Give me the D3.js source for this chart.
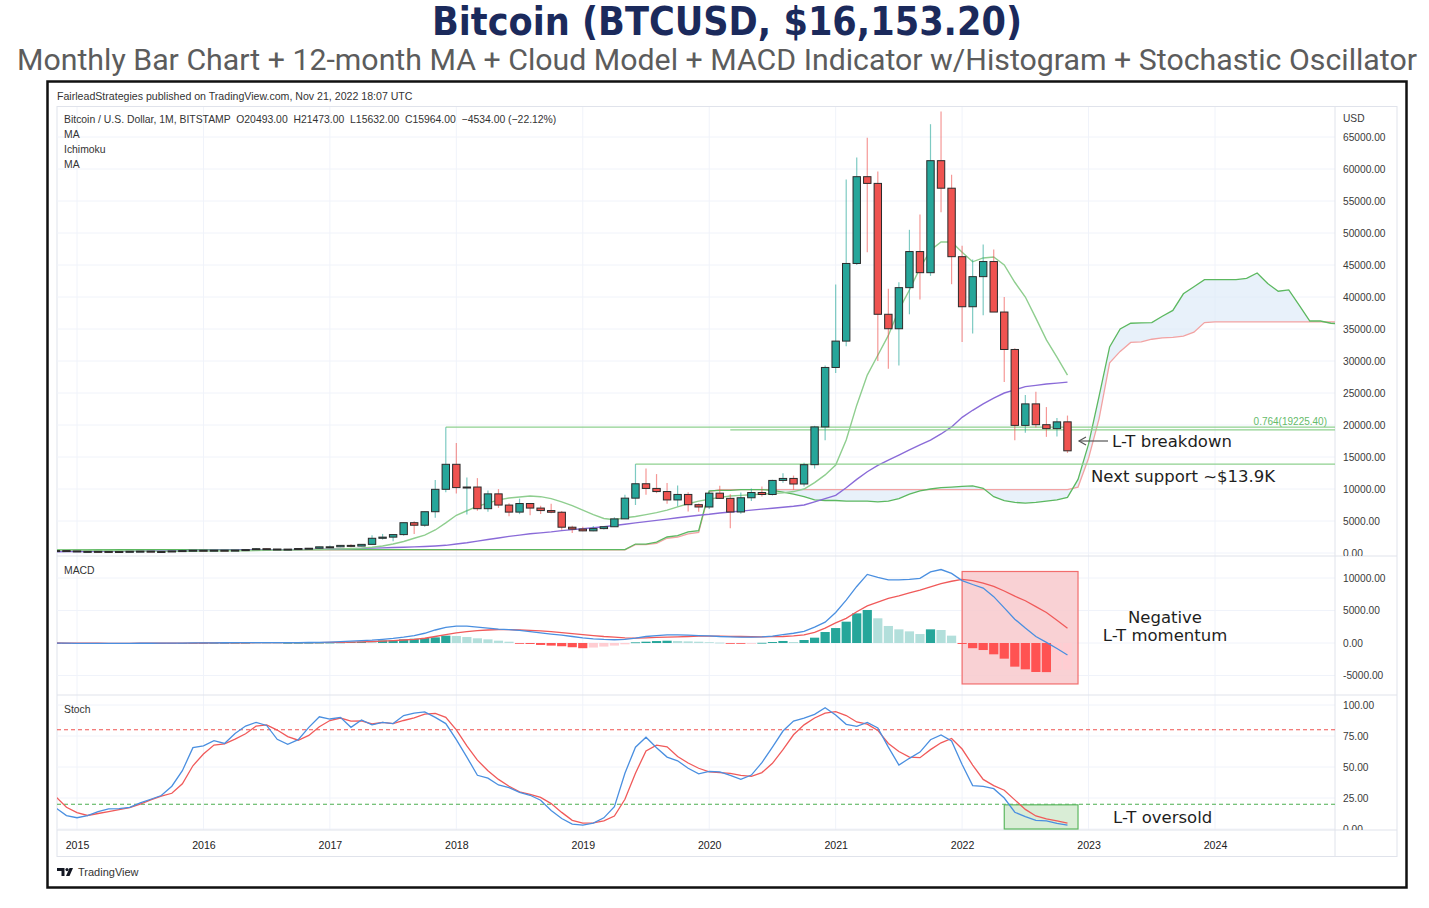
<!DOCTYPE html>
<html>
<head>
<meta charset="utf-8">
<script src="https://cdn.jsdelivr.net/npm/d3@7"></script>
<style>
  body { margin: 0; background: #fff; }
  svg { display: block; }
</style>
</head>
<body>
<svg id="chart" width="1429" height="908"></svg>
<script>
// monthly bars, Nov 2014 .. Nov 2022 (index 0 = Nov 2014, index 2 = Jan 2015)
const opens = [338,378,320,217,254,244,236,230,263,284,230,236,314,377,430,369,436,416,448,531,673,624,573,609,700,743,964,970,1190,1080,1348,2300,2480,2875,4735,4340,6450,9950,13860,10220,10310,6925,9240,7490,6390,7730,7020,6630,6370,4030,3740,3460,3810,4100,5330,8570,10820,10090,9600,8290,9150,7550,7190,9350,8540,6410,8630,9450,9140,11340,11650,10780,13800,19700,28990,33110,45240,58800,57750,37300,35040,41460,47100,43800,61300,57000,46300,38480,43180,45540,37650,31800,19940,23300,20050,19430,20493];
const highs = [458,382,320,268,300,261,248,268,318,285,245,333,502,466,460,442,440,467,549,780,704,627,615,720,756,979,1153,1210,1350,1350,2760,2980,2950,4750,4980,6450,11400,19666,17170,11780,11700,9750,9990,7780,8500,7750,7400,7680,6550,4240,4110,4200,4110,5600,9100,13880,13200,12330,10950,10540,9500,7750,9580,10500,9190,9470,10070,10400,11450,12470,12100,14100,19870,29300,41950,58350,61780,64900,59600,41300,42300,50500,52900,67000,69000,59100,48000,45850,48190,47440,40000,32000,24670,25200,22800,21090,21473];
const lows = [310,300,152,212,236,214,225,220,253,162,226,235,300,350,350,366,396,413,440,528,605,465,567,601,690,740,752,908,891,1060,1348,2100,1830,2680,2970,4110,5500,9500,9300,6000,6600,6430,7050,5750,6070,5880,6100,6200,3650,3130,3400,3390,3670,4090,5330,7500,9100,9350,7700,7300,6500,6430,6860,8450,3850,6150,8110,8830,8980,10960,9880,10400,13200,17600,28130,32300,45000,47000,30000,28800,29300,37300,39600,43300,53250,42000,32950,34300,37150,37700,26700,17600,18800,19600,18150,18200,15632];
const closes = [378,320,217,254,244,236,230,263,284,230,236,314,377,430,369,436,416,448,531,673,624,573,609,700,743,964,970,1190,1080,1348,2300,2480,2875,4735,4340,6450,9950,13860,10220,10310,6925,9240,7490,6390,7730,7020,6630,6370,4030,3740,3460,3810,4100,5330,8570,10820,10090,9600,8290,9150,7550,7190,9350,8540,6410,8630,9450,9140,11340,11650,10780,13800,19700,28990,33110,45240,58800,57750,37300,35040,41460,47100,43800,61300,57000,46300,38480,43180,45540,37650,31800,19940,23300,20050,19430,20490,15964];

// 12-month MA (green) and long MA (purple)
const ma12 = [480,470,450,430,400,380,350,330,310,290,280,270,270,280,300,320,340,350,360,380,420,450,470,490,520,550,600,640,700,760,900,1100,1400,1800,2300,2800,3600,4700,5900,6600,7300,7800,8300,8600,8750,8900,8800,8500,8000,7400,6700,6000,5400,5200,5500,5700,6000,6300,6700,7200,7700,8100,8400,8700,8900,9000,9100,9200,9300,9400,9600,10000,11000,12200,13750,17650,23100,27800,30900,34000,38000,41100,44500,47300,48600,48600,47000,45500,46100,46250,45000,42300,40000,36700,33300,30600,27800];
const maLong = [200,215,230,245,260,275,290,300,315,330,345,360,375,390,405,420,435,450,465,480,495,510,530,545,560,580,600,640,680,720,760,800,850,900,950,1020,1100,1200,1400,1600,1850,2100,2350,2600,2800,3000,3150,3300,3500,3650,3800,3950,4100,4300,4500,4700,4900,5100,5300,5500,5700,5900,6050,6250,6400,6550,6700,6850,7000,7150,7300,7500,8000,8500,9000,10200,11500,12700,13700,14500,15300,16100,16900,17650,18600,19700,21200,22300,23300,24200,25000,25500,26000,26200,26400,26550,26700];

// Ichimoku leading spans (run 26 bars past the last bar)
const spanA = [520,520,520,520,520,520,520,520,520,520,520,520,520,520,520,520,520,520,520,520,520,520,520,520,520,520,520,520,520,520,520,520,520,520,520,520,520,520,520,520,520,520,520,520,520,520,520,520,520,520,520,520,520,520,520,1400,1400,1700,2500,2700,3300,3500,9700,9800,9800,9900,9900,9900,9800,9500,9200,8800,8300,8200,8200,8100,8100,8100,8000,8100,8500,9200,9700,10000,10200,10300,10400,10500,10100,8800,8200,7900,7800,7900,8100,8300,8700,11500,17000,24500,32200,35000,35900,35950,36000,37000,37900,40500,41600,42700,42700,42700,42700,42900,43750,42100,40900,41100,38700,36250,36250,35900,35800];
const spanB = [480,480,480,480,480,480,480,480,480,480,480,480,480,480,480,480,480,480,480,480,480,480,480,480,480,480,480,480,480,480,480,480,480,480,480,480,480,480,480,480,480,480,480,480,480,480,480,480,480,480,480,480,480,480,480,1300,1300,1500,2300,2500,3000,3200,9600,9900,9900,9900,9900,9900,9900,9900,9900,9900,9900,9900,9900,9900,9900,9900,9900,9900,9900,9900,9900,9900,9900,9900,9900,9900,9900,9900,9900,9900,9900,9900,9900,9900,9900,10300,14800,21000,29700,31500,32900,33000,33400,33600,33700,33900,34500,36000,36100,36100,36100,36100,36100,36100,36100,36100,36100,36100,36100,36100,36100,36100];

// MACD
const macdLine = [-20,-30,-50,-60,-60,-55,-50,-45,-40,-35,-30,-20,-10,10,20,30,40,50,60,65,65,60,60,65,80,110,150,220,300,380,450,560,700,900,1150,1500,2000,2400,2600,2600,2450,2300,2150,2050,1950,1750,1550,1380,1200,1000,800,650,550,500,550,750,1000,1150,1250,1250,1200,1150,1100,1000,950,900,900,950,1050,1280,1500,1800,2450,3200,4700,6600,8700,10550,10100,9700,9700,9800,9950,10950,11300,10700,9600,9000,8450,7130,5400,3660,2300,1000,100,-850,-1850];
const signalLine = [0,-10,-20,-30,-40,-45,-45,-45,-40,-38,-35,-30,-25,-15,0,10,20,30,40,45,50,50,50,55,60,70,85,110,140,180,230,300,380,460,560,730,1000,1300,1550,1750,1900,2000,2050,2050,2000,1950,1850,1740,1600,1450,1300,1150,1000,900,800,750,800,850,900,950,1000,1050,1050,1050,1030,1000,960,950,970,1000,1100,1250,1650,2300,3100,3800,4800,5700,6300,6850,7250,7700,8150,8650,9150,9500,9800,9600,9200,8700,8000,7200,6500,5600,4700,3500,2260];
const histogram = [-30,-30,-40,-30,-20,-15,-10,-10,-10,-5,-5,-5,5,15,20,20,20,25,30,25,20,15,15,20,30,45,60,90,150,200,150,400,400,560,660,770,870,1130,1080,920,720,560,360,200,-50,-150,-300,-400,-500,-650,-800,-700,-550,-400,-200,100,200,300,350,300,250,200,120,60,-60,-120,-80,30,150,310,150,460,820,1690,2300,3280,4560,5080,3800,2620,2100,1790,1380,2100,2000,1130,-150,-800,-1080,-1740,-2410,-3640,-4050,-4460,-4480,-4150,-4100];

// Stochastic
const stochK = [17,10.8,9.1,10.8,14,16.2,16.5,17.5,21,24,27,34.5,47,65.6,67,71.2,69,77,83,86,83.5,72.3,68.3,72,82,90.5,88.7,90,82,88,84,86,85,91.5,93.5,94.5,90,85,72,58,43.3,41,35.5,33.3,29.6,27.2,23.2,15,8.5,4,3.2,4.8,9,18,45,66,74,65.5,58,55,49,44.5,46.5,46,43.3,40,43.5,53.5,66,79,87,89.5,92.5,97.8,92,84.4,82.8,86,81.5,66,51.6,57,62,72,75.8,71,52,35,34.3,32.5,25,13.5,10,7,6.5,4.6,3.2];
const stochD = [26,17.5,13.2,10.9,12.5,14,15.6,17.3,20,23.5,26.5,28.8,36.5,51,60.5,67.7,68.7,72.5,76.8,83,83.9,79.8,74.5,71.6,75.5,82.5,87.5,89.5,87,87.1,84.7,86,85,87.5,89.6,92.7,93.2,90,80,67,55.5,47,40,34.5,30,28,25.5,20.5,13.4,7,4.8,5,6.5,10.5,24,45,63,67.6,66.3,58.5,53.2,49,46,45.5,44.8,43.3,42.5,45.5,53,64,76,84,89.5,93.5,94.6,91.5,86.3,84.5,79.5,69,62.5,58,57.5,64,69.5,73,64.5,51.6,40,35,31.3,23.5,15.8,10.5,8.1,6.5,4.7];

// ticks and levels
const yearTicks = [2015,2016,2017,2018,2019,2020,2021,2022,2023,2024];
const priceTicks = [0,5000,10000,15000,20000,25000,30000,35000,40000,45000,50000,55000,60000,65000];
const macdTicks = [-5000,0,5000,10000];
const stochTicks = [0,25,50,75,100];
// horizontal levels: [start bar, price]
const levels = [[37, 19666], [64, 19225.4], [55, 13880]];

const svg = d3.select("#chart");
const SMALL = "'Liberation Sans', Arial, sans-serif";
const NOTE = "'DejaVu Sans', Verdana, sans-serif";

const L = 57, R = 1335;
const pane = {
    price: { top: 107, bottom: 556 },
    macd: { top: 556, bottom: 695 },
    stoch: { top: 695, bottom: 830 }
};

const x = d3.scaleLinear().domain([2, 110]).range([77, 1215]);
const yPrice = d3.scaleLinear().domain([0, 65000]).range([553, 137]);
const yMacd = d3.scaleLinear().domain([-5000, 10000]).range([675.5, 578]);
const yStoch = d3.scaleLinear().domain([0, 100]).range([829, 705]);
const yearIdx = yearTicks.map(y => 2 + 12 * (y - 2015));
const bars = d3.range(opens.length);

// ---- titles
svg.append("text").attr("x", 727).attr("y", 35).attr("text-anchor", "middle")
    .attr("font-family", NOTE).attr("font-weight", "bold").attr("font-size", 39)
    .attr("fill", "#1b2a5c").attr("textLength", 590).attr("lengthAdjust", "spacingAndGlyphs")
    .text("Bitcoin (BTCUSD, $16,153.20)");
svg.append("text").attr("x", 717).attr("y", 70).attr("text-anchor", "middle")
    .attr("font-family", "Roboto, 'Liberation Sans', sans-serif").attr("font-size", 30)
    .attr("fill", "#5c5c5c").attr("textLength", 1400).attr("lengthAdjust", "spacingAndGlyphs")
    .text("Monthly Bar Chart + 12-month MA + Cloud Model + MACD Indicator w/Histogram + Stochastic Oscillator");

// ---- frame
svg.append("rect").attr("x", 47.5).attr("y", 81.5).attr("width", 1359).attr("height", 806)
    .attr("fill", "none").attr("stroke", "#111").attr("stroke-width", 2.5);
svg.append("text").attr("x", 57).attr("y", 99.5).attr("font-family", SMALL).attr("font-size", 10.6)
    .attr("fill", "#333").text("FairleadStrategies published on TradingView.com, Nov 21, 2022 18:07 UTC");
svg.append("rect").attr("x", 57).attr("y", 106.5).attr("width", 1340).attr("height", 750)
    .attr("fill", "#fff").attr("stroke", "#e0e3eb");

// ---- clips (user space of the referencing, untransformed groups)
const defs = svg.append("defs");
Object.entries(pane).forEach(([k, p]) => {
    defs.append("clipPath").attr("id", "clip-" + k).append("rect")
        .attr("x", L).attr("y", p.top).attr("width", R - L).attr("height", p.bottom - p.top);
    defs.append("clipPath").attr("id", "clipax-" + k).append("rect")
        .attr("x", R).attr("y", p.top).attr("width", 62).attr("height", p.bottom - p.top);
});

// ---- grid
const grid = svg.append("g").attr("stroke", "#f0f3fa").attr("stroke-width", 1);
yearIdx.forEach(i => grid.append("line").attr("x1", x(i)).attr("x2", x(i)).attr("y1", 107).attr("y2", 830));
priceTicks.forEach(v => grid.append("line").attr("x1", L).attr("x2", R).attr("y1", yPrice(v)).attr("y2", yPrice(v)));
macdTicks.forEach(v => grid.append("line").attr("x1", L).attr("x2", R).attr("y1", yMacd(v)).attr("y2", yMacd(v)));
stochTicks.forEach(v => grid.append("line").attr("x1", L).attr("x2", R).attr("y1", yStoch(v)).attr("y2", yStoch(v)));

// separators
const sep = svg.append("g").attr("stroke", "#e0e3eb");
[556, 695, 830].forEach(y => sep.append("line").attr("x1", L).attr("x2", 1397).attr("y1", y).attr("y2", y));
sep.append("line").attr("x1", R).attr("x2", R).attr("y1", 107).attr("y2", 856);

// ---- price pane
const gP = svg.append("g").attr("clip-path", "url(#clip-price)");
const cloudIdx = d3.range(spanA.length);
gP.append("path").datum(cloudIdx)
    .attr("fill", "#dce9f8").attr("fill-opacity", 0.65)
    .attr("d", d3.area().x(i => x(i)).y0(i => yPrice(spanB[i])).y1(i => yPrice(spanA[i])));
const line = (arr, ys) => d3.line().x(i => x(i)).y(i => ys(arr[i]));
gP.append("path").datum(cloudIdx).attr("fill", "none").attr("stroke", "#f2a3a3").attr("stroke-width", 1.3)
    .attr("d", line(spanB, yPrice));
gP.append("path").datum(cloudIdx).attr("fill", "none").attr("stroke", "#5cb860").attr("stroke-width", 1.3)
    .attr("d", line(spanA, yPrice));
gP.append("path").datum(bars).attr("fill", "none").attr("stroke", "#8a6bd8").attr("stroke-width", 1.4)
    .attr("d", line(maLong, yPrice));
gP.append("path").datum(bars).attr("fill", "none").attr("stroke", "#8fce8f").attr("stroke-width", 1.4)
    .attr("d", line(ma12, yPrice));

levels.forEach(([i, v]) => {
    gP.append("line").attr("x1", x(i)).attr("x2", R).attr("y1", yPrice(v)).attr("y2", yPrice(v))
        .attr("stroke", "#8fd18f").attr("stroke-width", 1.3);
});
gP.append("text").attr("x", 1327).attr("y", yPrice(19225.4) - 5).attr("text-anchor", "end")
    .attr("font-family", SMALL).attr("font-size", 10).attr("fill", "#66bb6a").text("0.764(19225.40)");

// candles
const up = i => closes[i] >= opens[i];
gP.append("g").selectAll("line").data(bars).join("line")
    .attr("x1", i => x(i)).attr("x2", i => x(i))
    .attr("y1", i => yPrice(highs[i])).attr("y2", i => yPrice(lows[i]))
    .attr("stroke", i => up(i) ? "#26a69a" : "#ef5350").attr("stroke-opacity", 0.6).attr("stroke-width", 1.2);
gP.append("g").selectAll("rect").data(bars).join("rect")
    .attr("x", i => x(i) - 3.7).attr("width", 7.4)
    .attr("y", i => yPrice(Math.max(opens[i], closes[i])))
    .attr("height", i => Math.max(1, Math.abs(yPrice(opens[i]) - yPrice(closes[i]))))
    .attr("fill", i => up(i) ? "#26a69a" : "#ef5350")
    .attr("stroke", "#2b2b2b").attr("stroke-width", 1);

// legend
const leg = svg.append("g").attr("font-family", SMALL).attr("font-size", 10.4).attr("fill", "#333");
leg.append("text").attr("x", 64).attr("y", 123).attr("xml:space", "preserve")
    .text("Bitcoin / U.S. Dollar, 1M, BITSTAMP  O20493.00  H21473.00  L15632.00  C15964.00  \u22124534.00 (\u221222.12%)");
["MA", "Ichimoku", "MA"].forEach((t, k) => leg.append("text").attr("x", 64).attr("y", 138 + k * 15).text(t));

// annotations price
const arrowY = 441;
const arr = svg.append("g").attr("stroke", "#555").attr("stroke-width", 1.2).attr("fill", "none");
arr.append("line").attr("x1", 1079).attr("x2", 1108).attr("y1", arrowY).attr("y2", arrowY);
arr.append("path").attr("d", `M1086,${arrowY - 4} L1079,${arrowY} L1086,${arrowY + 4}`);
const note = (t, xx, yy, anchor) => svg.append("text").attr("x", xx).attr("y", yy)
    .attr("text-anchor", anchor || "start").attr("font-family", NOTE).attr("font-size", 16.5)
    .attr("fill", "#1e1e1e").text(t);
note("L-T breakdown", 1112, 447);
note("Next support ~$13.9K", 1091, 482);

// ---- MACD pane
const gM = svg.append("g").attr("clip-path", "url(#clip-macd)");
gM.append("rect").attr("x", x(86)).attr("width", x(97) - x(86))
    .attr("y", yMacd(11000)).attr("height", yMacd(-6300) - yMacd(11000))
    .attr("fill", "#f8c9cd").attr("fill-opacity", 0.85).attr("stroke", "#f26d6d").attr("stroke-width", 1.2);
const histColor = i => {
    const v = histogram[i], p = i > 0 ? histogram[i - 1] : 0;
    if (v >= 0) return v >= p ? "#26a69a" : "#b2dfdb";
    return v <= p ? "#ff5252" : "#ffcdd2";
};
gM.append("g").selectAll("rect").data(bars).join("rect")
    .attr("x", i => x(i) - 4.6).attr("width", 9.2)
    .attr("y", i => yMacd(Math.max(0, histogram[i])))
    .attr("height", i => Math.max(0.8, Math.abs(yMacd(histogram[i]) - yMacd(0))))
    .attr("fill", histColor);
gM.append("path").datum(bars).attr("fill", "none").attr("stroke", "#f05a5a").attr("stroke-width", 1.3)
    .attr("d", line(signalLine, yMacd));
gM.append("path").datum(bars).attr("fill", "none").attr("stroke", "#4a8fe0").attr("stroke-width", 1.3)
    .attr("d", line(macdLine, yMacd));
svg.append("text").attr("x", 64).attr("y", 574).attr("font-family", SMALL).attr("font-size", 10.4)
    .attr("fill", "#333").text("MACD");
note("Negative", 1165, 623, "middle");
note("L-T momentum", 1165, 641, "middle");

// ---- Stoch pane
const gS = svg.append("g").attr("clip-path", "url(#clip-stoch)");
gS.append("line").attr("x1", L).attr("x2", R).attr("y1", yStoch(80)).attr("y2", yStoch(80))
    .attr("stroke", "#ef5350").attr("stroke-dasharray", "4,3").attr("stroke-width", 1.1);
gS.append("line").attr("x1", L).attr("x2", R).attr("y1", yStoch(20)).attr("y2", yStoch(20))
    .attr("stroke", "#4caf50").attr("stroke-dasharray", "4,3").attr("stroke-width", 1.1);
gS.append("rect").attr("x", x(90)).attr("width", x(97) - x(90))
    .attr("y", yStoch(19.5)).attr("height", yStoch(0) - yStoch(19.5))
    .attr("fill", "#cfe8cc").attr("fill-opacity", 0.8).attr("stroke", "#5cb860").attr("stroke-width", 1.2);
gS.append("path").datum(bars).attr("fill", "none").attr("stroke", "#f05a5a").attr("stroke-width", 1.3)
    .attr("d", line(stochD, yStoch));
gS.append("path").datum(bars).attr("fill", "none").attr("stroke", "#4a8fe0").attr("stroke-width", 1.3)
    .attr("d", line(stochK, yStoch));
svg.append("text").attr("x", 64).attr("y", 713).attr("font-family", SMALL).attr("font-size", 10.4)
    .attr("fill", "#333").text("Stoch");
note("L-T oversold", 1113, 823);

// ---- axes
const styleAxis = g => {
    g.select(".domain").remove();
    g.selectAll("text").attr("font-family", SMALL).attr("font-size", 10.2).attr("fill", "#3a3a3a");
};
const rightAxis = (key, scale, ticks) => svg.append("g").attr("clip-path", `url(#clipax-${key})`)
    .append("g").attr("transform", `translate(${R},0)`)
    .call(d3.axisRight(scale).tickValues(ticks).tickFormat(d => d.toFixed(2)).tickSize(0).tickPadding(8))
    .call(styleAxis);
rightAxis("price", yPrice, priceTicks);
rightAxis("macd", yMacd, macdTicks);
rightAxis("stoch", yStoch, stochTicks);
svg.append("text").attr("x", 1343).attr("y", 122).attr("font-family", SMALL).attr("font-size", 10.2)
    .attr("fill", "#3a3a3a").text("USD");
svg.append("g").attr("transform", "translate(0,841)")
    .call(d3.axisBottom(x).tickValues(yearIdx).tickFormat((d, k) => String(yearTicks[k])).tickSize(0).tickPadding(0))
    .call(styleAxis)
    .call(g => g.selectAll("text").attr("font-size", 10.6).attr("fill", "#222"));

// ---- TradingView logo
const logo = svg.append("g").attr("fill", "#131722");
logo.append("path").attr("d", "M57,868 h7.5 v8 h-3 v-5 h-4.5 z");
logo.append("circle").attr("cx", 67).attr("cy", 869.6).attr("r", 1.6);
logo.append("path").attr("d", "M69.5,868 h3.5 l-3.5,8 h-3.5 z");
svg.append("text").attr("x", 78).attr("y", 876).attr("font-family", SMALL).attr("font-size", 11)
    .attr("fill", "#333").text("TradingView");
</script>
</body>
</html>
